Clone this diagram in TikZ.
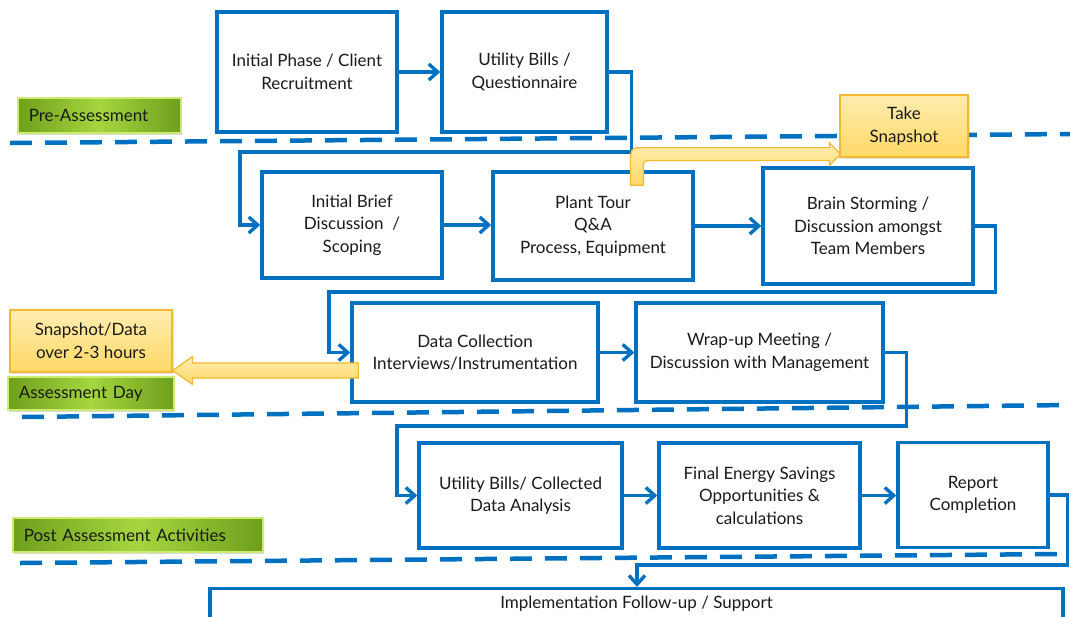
\documentclass[tikz,border=0pt]{standalone}
\usepackage{fontspec}
\setmainfont{Lato}
\usetikzlibrary{arrows.meta,calc,shadows}
\definecolor{cblue}{HTML}{0070C0}
\definecolor{yfillA}{HTML}{FFEDB0}
\definecolor{yfillB}{HTML}{FFD966}
\definecolor{yborder}{HTML}{F2B830}
\definecolor{gA}{HTML}{6E9F1B}
\definecolor{gB}{HTML}{A5D63F}
\definecolor{gborder}{HTML}{CDEB6E}
\definecolor{txt}{HTML}{1A1A1A}
\begin{document}
\begin{tikzpicture}[x=1pt,y=-1pt,
  font=\fontsize{17}{22.5}\selectfont, text=txt,
  stepbox/.style={draw=cblue, line width=3.4pt, fill=white, align=center, inner sep=0pt},
  arr/.style={draw=cblue, line width=3.4pt, -{Straight Barb[length=9pt,width=16pt]}},
  sep/.style={draw=cblue, line width=4.5pt, dash pattern=on 22pt off 13pt},
  phase/.style={draw=gborder, line width=1.5pt, left color=gA, right color=gA, middle color=gB,
    inner xsep=11pt, inner ysep=0pt, anchor=west, align=left,
    drop shadow={opacity=0.3,shadow xshift=1pt,shadow yshift=-2pt}},
  note/.style={draw=yborder, line width=1.2pt, top color=yfillA, bottom color=yfillB,
    align=center, inner sep=0pt,
    drop shadow={opacity=0.25,shadow xshift=1.5pt,shadow yshift=-2pt}},
  yarrow/.style={draw=yborder, line width=1.2pt, top color=yfillA, bottom color=yfillB},
]
\path[use as bounding box] (0,0) rectangle (1070,616);
\clip (0,0) rectangle (1070,616);

% separators
\draw[sep] (10,143) -- (1070,134);
\draw[sep] (22,417) -- (1070,405);
\draw[sep] (20,563) -- (1062,554);

% process boxes
\node[stepbox, minimum width=180pt, minimum height=120pt] (n1) at (307,72) {Initial Phase / Client\\Recruitment};
\node[stepbox, minimum width=165pt, minimum height=120pt] (n2) at (524.5,72) {Utility Bills /\\Questionnaire};
\node[stepbox, minimum width=180pt, minimum height=106pt] (n3) at (352,225) {Initial Brief\\Discussion\ \ /\\Scoping};
\node[stepbox, minimum width=200pt, minimum height=108pt] (n4) at (593,226) {Plant Tour\\Q\&A\\Process, Equipment};
\node[stepbox, minimum width=210pt, minimum height=116pt] (n5) at (868,226) {Brain Storming /\\Discussion amongst\\Team Members};
\node[stepbox, minimum width=246pt, minimum height=99pt] (n6) at (475,352.5) {Data Collection\\Interviews/Instrumentation};
\node[stepbox, minimum width=247pt, minimum height=99pt] (n7) at (759.5,352.5) {Wrap-up Meeting /\\Discussion with Management};
\node[stepbox, minimum width=203pt, minimum height=105pt] (n8) at (520.5,495.5) {Utility Bills/ Collected\\Data Analysis};
\node[stepbox, minimum width=201pt, minimum height=105pt] (n9) at (759.5,495.5) {Final Energy Savings\\Opportunities \&\\calculations};
\node[stepbox, minimum width=150pt, minimum height=105pt] (n10) at (973,495) {Report\\Completion};
\node[stepbox, anchor=north, minimum width=853pt, text height=12pt, text depth=44pt, inner ysep=8pt] (n11) at (636.5,587) {Implementation Follow-up / Support};

% connectors
\draw[arr] (n1) -- (n2);
\draw[arr] (n2.east) -- ++(23,0) |- (240,152) |- (n3.west);
\draw[arr] (n3.east) -- (n3.east -| n4.west);
\draw[arr] (n4.east) -- (n4.east -| n5.west);
\draw[arr] (n5.east) -- ++(21,0) |- (329,292) |- (n6.west);
\draw[arr] (n6) -- (n7);
\draw[arr] (n7.east) -- ++(22,0) |- (397,426) |- (n8.west);
\draw[arr] (n8) -- (n9);
\draw[arr] (n9.east) -- (n9.east -| n10.west);
\coordinate (c4) at (637,565);
\draw[arr] (n10.east) -- ++(18,0) |- (c4) -- (c4 |- n11.north);

% phase labels
\node[phase, text width=141pt, minimum height=35pt] (pa) at (17,115.5) {Pre-Assessment};
\node[phase, text width=144pt, minimum height=33pt] (ad) at (7,393.5) {Assessment Day};
\node[phase, text width=228pt, minimum height=34pt] (post) at (12,535) {Post Assessment Activities};

% notes
\node[note, minimum width=128pt, minimum height=62pt] (ts) at (904,126) {Take\\Snapshot};
\node[note, minimum width=162pt, minimum height=62pt] (sd) at (91,341) {Snapshot/Data\\over 2-3 hours};

% yellow arrow: plant tour -> take snapshot
\coordinate (ya) at ($(n4.north)+(44,15)$);
\coordinate (yb) at ($(ts.south west)+(1,-3.5)$);
\path[yarrow] ($(ya)+(-6.5,0)$) -- ($(ya|-yb)+(-6.5,9.5)$)
  .. controls ($(ya|-yb)+(-6.5,-6.5)$) .. ($(ya|-yb)+(9.5,-6.5)$)
  -- ($(yb)+(-11,-6.5)$) -- ($(yb)+(-11,-11.5)$) -- (yb)
  -- ($(yb)+(-11,11.5)$) -- ($(yb)+(-11,6.5)$) -- ($(ya|-yb)+(14.5,6.5)$)
  .. controls ($(ya|-yb)+(6.5,6.5)$) .. ($(ya|-yb)+(6.5,14.5)$)
  -- ($(ya)+(6.5,0)$) -- cycle;

% yellow arrow: data collection -> snapshot/data
\coordinate (yc) at ($(n6.west)+(8,18)$);
\coordinate (yd) at (sd.east |- yc);
\path[yarrow] ($(yc)+(0,-7.5)$) -- ($(yd)+(20,-7.5)$) -- ($(yd)+(20,-14)$) -- (yd)
  -- ($(yd)+(20,14)$) -- ($(yd)+(20,7.5)$) -- ($(yc)+(0,7.5)$) -- cycle;
\end{tikzpicture}
\end{document}
